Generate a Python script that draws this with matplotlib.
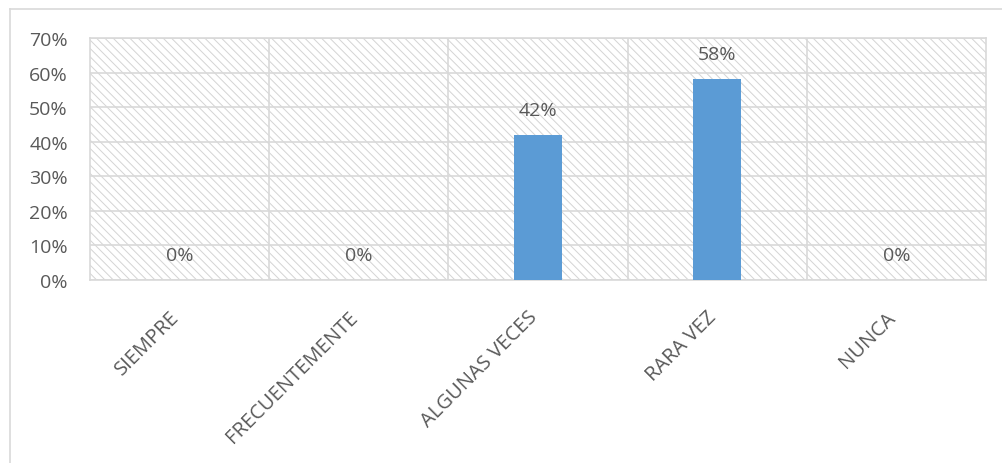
import numpy as np
import matplotlib.pyplot as plt
from matplotlib.patches import Rectangle
from matplotlib.ticker import PercentFormatter, FixedLocator

categories = ["SIEMPRE", "FRECUENTEMENTE", "ALGUNAS VECES", "RARA VEZ", "NUNCA"]
values = [0, 0, 42, 58, 0]
yticks = [0, 10, 20, 30, 40, 50, 60, 70]

plt.rcParams['font.family'] = ['Open Sans', 'DejaVu Sans']
plt.rcParams['hatch.linewidth'] = 0.7
plt.rcParams['hatch.color'] = '#d4d4d4'

text_color = '#595959'
grid_color = '#d9d9d9'
fs = 14

fig = plt.figure(figsize=(10.02, 4.64), dpi=100)
ax = fig.add_axes([90 / 1002, 1 - 281 / 464, 896 / 1002, 242 / 464])

# outer chart border (only left/top visible in the crop)
fig.add_artist(plt.Line2D([9.5 / 1002, 9.5 / 1002], [0, 1 - 9.5 / 464],
                          transform=fig.transFigure, color='#d9d9d9', lw=1.2))
fig.add_artist(plt.Line2D([9.5 / 1002, 1], [1 - 9.5 / 464, 1 - 9.5 / 464],
                          transform=fig.transFigure, color='#d9d9d9', lw=1.2))

# hatched plot area background
ax.add_patch(Rectangle((0, 0), 1, 1, transform=ax.transAxes, facecolor='white',
                       edgecolor='#d4d4d4', hatch='\\\\\\\\', lw=0, zorder=0))

x = np.arange(len(categories))
ax.bar(x, values, width=0.27, color='#5b9bd5', zorder=3)

for xi, v in zip(x, values):
    ax.annotate(f"{v}%", (xi, v), xytext=(0, 18), textcoords='offset points',
                ha='center', va='center', fontsize=fs, color=text_color, zorder=4)

ax.set_xlim(-0.5, len(categories) - 0.5)
ax.set_ylim(0, 70)
ax.set_yticks(yticks)
ax.yaxis.set_major_formatter(PercentFormatter(decimals=0))
ax.set_xticks(x)
ax.set_xticklabels(categories, rotation=45, ha='right', va='baseline',
                   rotation_mode='anchor', fontsize=14.5, color=text_color)
ax.xaxis.set_minor_locator(FixedLocator(np.arange(0.5, len(categories) - 0.5, 1)))

ax.grid(True, axis='y', color=grid_color, lw=1.2, zorder=1)
ax.grid(True, axis='x', which='minor', color=grid_color, lw=1.2, zorder=1)
ax.grid(False, axis='x', which='major')
ax.set_axisbelow(True)

ax.tick_params(axis='y', labelsize=fs)
ax.tick_params(axis='both', which='both', length=0, labelcolor=text_color)
ax.tick_params(axis='x', pad=27)
ax.tick_params(axis='y', pad=16)
for s in ax.spines.values():
    s.set_color(grid_color)
    s.set_linewidth(1.2)

fig.savefig("out.png", dpi=100, facecolor='white')
